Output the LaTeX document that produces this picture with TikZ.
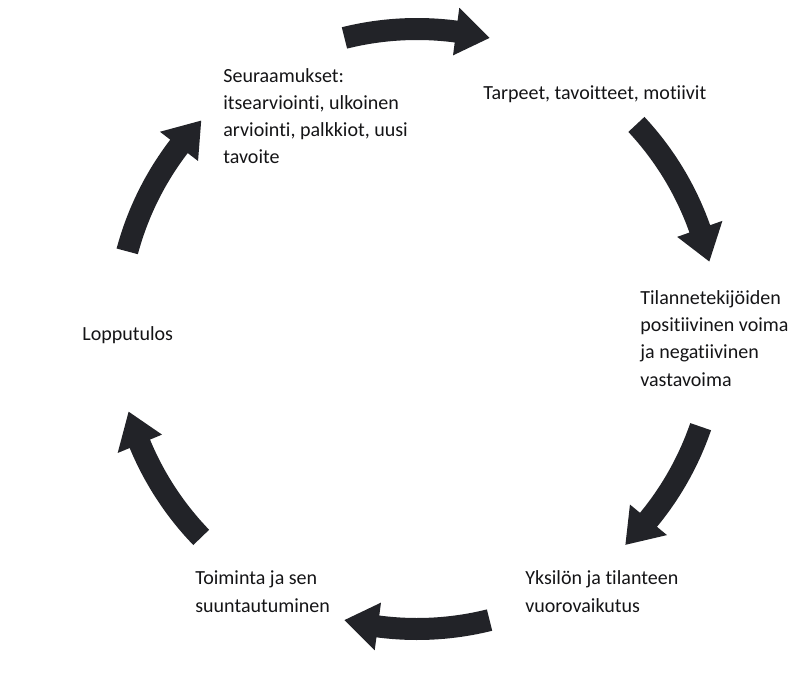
\documentclass[tikz,border=0pt]{standalone}
\usepackage{fontspec}
\setmainfont[Ligatures=NoCommon]{Carlito}
\definecolor{arrowdark}{RGB}{34,35,40}
\definecolor{textdark}{RGB}{20,20,22}
\tikzset{
    cycletext/.style={anchor=base west, inner sep=0pt, align=left, text=textdark,
        font=\fontsize{11.4}{15.4}\selectfont},
    cyclearrow/.style={fill=arrowdark, draw=none}
}
% thick curved arrow on the ring, from angle #1 clockwise to angle #2
\newcommand{\bigarrow}[2]{%
    \fill[cyclearrow, shift={(c)}]
        plot[domain=#1:#2+6.5, samples=30] (\x:311) -- (#2+6.5:324) -- (#2:300)
        -- (#2+6.5:276) -- plot[domain=#2+6.5:#1, samples=30] (\x:289) -- cycle;}

\begin{document}
\begin{tikzpicture}[x=0.02cm, y=0.02cm]
    \useasboundingbox (0,0) rectangle (800,687);
    \coordinate (c) at (417,358);

    \bigarrow{104}{76}
    \bigarrow{43}{13}
    \bigarrow{-19}{-46}
    \bigarrow{-76}{-104}
    \bigarrow{-136}{-164}
    \bigarrow{165}{136}

    % base of a multi-line node is its last line
    \node[cycletext] (needs) at (483,587) {Tarpeet, tavoitteet, motiivit};
    \node[cycletext] (forces) at (640,301) {Tilannetekijöiden\\positiivinen voima\\ja negatiivinen\\vastavoima};
    \node[cycletext] (interaction) at (525,75) {Yksilön ja tilanteen\\vuorovaikutus};
    \node[cycletext] (action) at (195,75) {Toiminta ja sen\\suuntautuminen};
    \node[cycletext] (outcome) at (82,347) {Lopputulos};
    \node[cycletext] (consequences) at (223,523) {Seuraamukset:\\itsearviointi, ulkoinen\\arviointi, palkkiot, uusi\\tavoite};
\end{tikzpicture}
\end{document}
